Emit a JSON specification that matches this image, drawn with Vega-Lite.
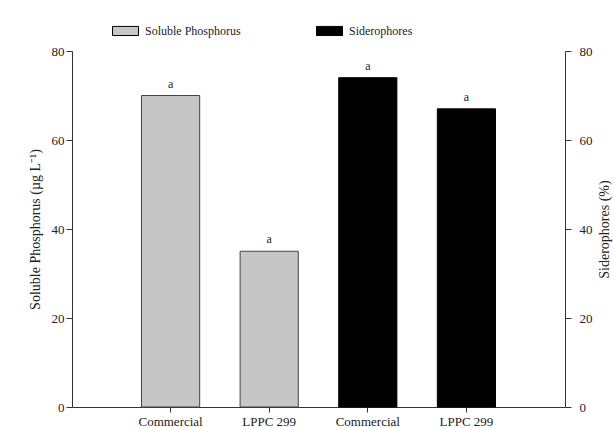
{
  "$schema": "https://vega.github.io/schema/vega-lite/v6.json",
  "width": 493,
  "height": 356,
  "autosize": {"type": "none"},
  "padding": {"left": 72, "top": 51, "right": 49, "bottom": 21},
  "background": "white",
  "config": {
    "view": {"stroke": null},
    "font": "Liberation Serif",
    "axis": {"labelFont": "Liberation Serif", "titleFont": "Liberation Serif", "labelFontSize": 13, "titleFontSize": 14, "titleFontWeight": "normal", "labelColor": "#222", "titleColor": "#222", "domainColor": "#333", "tickColor": "#333", "grid": false},
    "legend": {"labelFont": "Liberation Serif", "labelFontSize": 12, "labelColor": "#222"},
    "text": {"font": "Liberation Serif"}
  },
  "data": {
    "values": [
      {"key": "Commercial|P", "series": "Soluble Phosphorus", "value": 70, "letter": "a"},
      {"key": "LPPC 299|P", "series": "Soluble Phosphorus", "value": 35, "letter": "a"},
      {"key": "Commercial|S", "series": "Siderophores", "value": 74, "letter": "a"},
      {"key": "LPPC 299|S", "series": "Siderophores", "value": 67, "letter": "a"}
    ]
  },
  "encoding": {
    "x": {
      "field": "key", "type": "nominal", "sort": null,
      "scale": {"paddingInner": 0.41, "paddingOuter": 0.705},
      "axis": {"title": null, "labelAngle": 0, "labelExpr": "split(datum.value,'|')[0]", "tickSize": 5, "labelPadding": 3, "labelFontSize": 13}
    }
  },
  "layer": [
    {
      "transform": [{"filter": "datum.series == 'Soluble Phosphorus'"}],
      "encoding": {
        "y": {"field": "value", "type": "quantitative", "scale": {"domain": [0, 80]},
          "axis": {"orient": "left", "values": [0, 20, 40, 60, 80], "title": "Soluble Phosphorus (µg L⁻¹)", "tickSize": 6, "labelPadding": 2, "titlePadding": 9}}
      },
      "layer": [
        {
          "mark": {"type": "bar", "stroke": "#444", "strokeWidth": 1},
          "encoding": {
            "color": {"field": "series", "type": "nominal",
              "scale": {"domain": ["Soluble Phosphorus", "Siderophores"], "range": ["#c6c6c6", "#000000"]},
              "legend": {"title": null, "orient": "none", "direction": "horizontal", "legendX": 40, "legendY": -34, "columnPadding": 73, "symbolType": "M-1,-0.35H1V0.35H-1Z", "symbolSize": 676, "symbolStrokeColor": "#444", "symbolStrokeWidth": 1, "symbolOpacity": 1, "labelOffset": 6}}
          }
        },
        {
          "mark": {"type": "text", "dy": -12, "fontSize": 12, "color": "#222"},
          "encoding": {"text": {"field": "letter"}}
        }
      ]
    },
    {
      "transform": [{"filter": "datum.series == 'Siderophores'"}],
      "encoding": {
        "y": {"field": "value", "type": "quantitative", "scale": {"domain": [0, 80]},
          "axis": {"orient": "right", "values": [0, 20, 40, 60, 80], "title": "Siderophores (%)", "titleAngle": 270, "titleBaseline": "top", "tickSize": 6, "labelPadding": 8, "titlePadding": 5}}
      },
      "layer": [
        {
          "mark": {"type": "bar", "stroke": "#000", "strokeWidth": 1},
          "encoding": {
            "color": {"field": "series", "type": "nominal"}
          }
        },
        {
          "mark": {"type": "text", "dy": -12, "fontSize": 12, "color": "#222"},
          "encoding": {"text": {"field": "letter"}}
        }
      ]
    }
  ],
  "resolve": {"scale": {"y": "independent"}}
}
